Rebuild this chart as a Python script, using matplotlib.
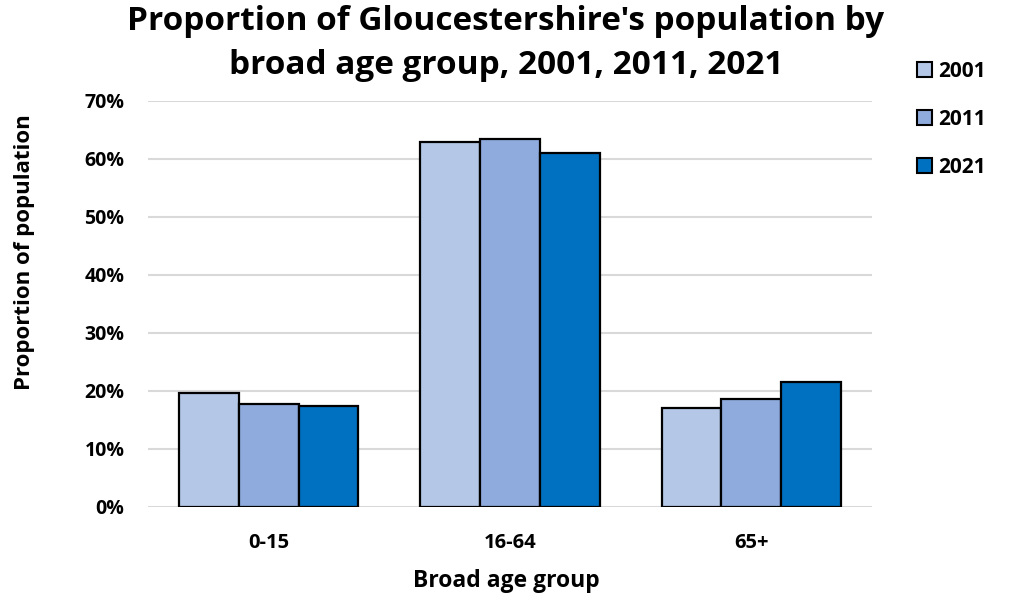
import matplotlib
matplotlib.use("Agg")
import matplotlib.pyplot as plt
import numpy as np
from matplotlib.patches import Patch

categories = ["0-15", "16-64", "65+"]
years = ["2001", "2011", "2021"]
v2001 = [19.7, 63.0, 17.1]
v2011 = [17.8, 63.4, 18.7]
v2021 = [17.4, 61.0, 21.6]
yticks = [0, 10, 20, 30, 40, 50, 60, 70]

colors = ["#B4C7E7", "#8FAADC", "#0070C0"]
plt.rcParams['font.family'] = ['Open Sans', 'DejaVu Sans']

fig = plt.figure(figsize=(10.12, 5.99), dpi=100)
ax = fig.add_axes([148/1012, 1-507/599, 724/1012, 406/599])

x = np.arange(len(categories))
w = 0.248
series = [v2001, v2011, v2021]
for i, (vals, c, yr) in enumerate(zip(series, colors, years)):
    ax.bar(x + (i-1)*w, vals, width=w, color=c, edgecolor="black", linewidth=1.6, label=yr, zorder=3)

ax.set_xlim(-0.5, 2.5)
ax.set_ylim(0, 70)
ax.set_yticks(yticks)
ax.set_yticklabels([f"{t}%" for t in yticks], fontsize=14, fontweight="bold")
ax.set_xticks(x)
ax.set_xticklabels(categories, fontsize=14.5, fontweight="bold")
ax.tick_params(axis="y", length=0, pad=17)
ax.tick_params(axis="x", length=0, pad=19)
ax.yaxis.grid(True, color="#D9D9D9", linewidth=1.5, zorder=0)
ax.set_axisbelow(True)
for s in ax.spines.values():
    s.set_visible(False)

fig.text(0.5, 1-22/599, "Proportion of Gloucestershire's population by",
         ha="center", va="center", fontsize=24, fontweight="bold")
fig.text(0.5, 1-66/599, "broad age group, 2001, 2011, 2021",
         ha="center", va="center", fontsize=24, fontweight="bold")
fig.text(25/1012, 1-252/599, "Proportion of population", rotation=90, ha="center", va="center",
         fontsize=16, fontweight="bold")
fig.text(506/1012, 1-581/599, "Broad age group", ha="center", va="center",
         fontsize=16.5, fontweight="bold")

handles = [Patch(facecolor=c, edgecolor="black", linewidth=1.5, label=y) for c, y in zip(colors, years)]
leg = fig.legend(handles=handles, loc="upper left", bbox_to_anchor=(917/1012, 1-61/599),
                 frameon=False, prop={"size": 15, "weight": "bold"}, handlelength=0.72, handleheight=0.72,
                 handletextpad=0.3, labelspacing=1.3, borderpad=0, borderaxespad=0)

fig.savefig("out.png", dpi=100)
